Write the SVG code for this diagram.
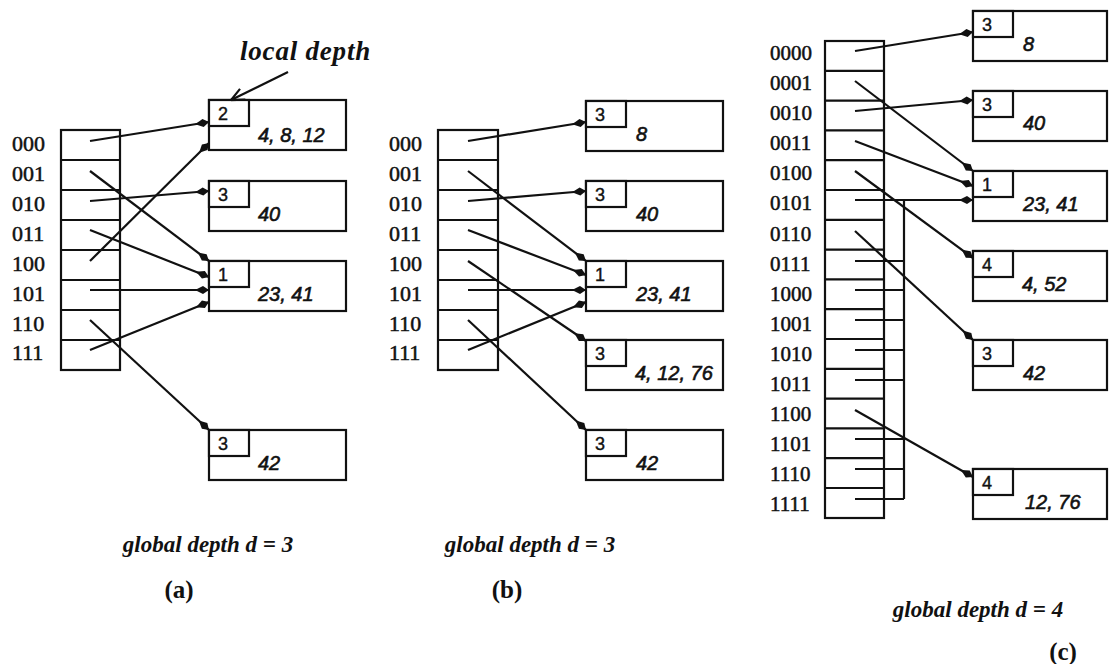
<svg xmlns="http://www.w3.org/2000/svg" width="1109" height="664" viewBox="0 0 1109 664">
  <style>
    .box { fill: #fff; stroke: #111; stroke-width: 2.2; }
    .row { stroke: #111; stroke-width: 2.2; }
    .ptr { fill: none; stroke: #111; stroke-width: 2.2; marker-end: url(#dart); }
    .bus { fill: none; stroke: #111; stroke-width: 2.2; }
    .lbl { font-family: "Liberation Serif", "Times New Roman", serif; font-size: 22px; fill: #111; stroke: #111; stroke-width: 0.5; }
    .lbl4 { font-family: "Liberation Serif", "Times New Roman", serif; font-size: 21px; fill: #111; stroke: #111; stroke-width: 0.5; }
    .dep { font-family: "Liberation Sans", Arial, sans-serif; font-size: 18px; fill: #111; stroke: #111; stroke-width: 0.4; }
    .val { font-family: "Liberation Sans", Arial, sans-serif; font-size: 20px; font-style: italic; fill: #111; stroke: #111; stroke-width: 0.6; }
    .cap { font-family: "Liberation Serif", "Times New Roman", serif; font-size: 23px; font-style: italic; font-weight: bold; fill: #111; }
    .note { font-size: 27px; letter-spacing: 0.8px; }
    .tag { font-family: "Liberation Serif", "Times New Roman", serif; font-size: 25px; font-weight: bold; fill: #111; text-anchor: middle; }
  </style>
  <defs>
    <marker id="dart" viewBox="-15 -5 16 10" refX="0" refY="0" markerWidth="16" markerHeight="10" markerUnits="userSpaceOnUse" orient="auto">
      <path d="M0,0 L-6,-4 L-14,0 L-6,4 Z" fill="#111"/>
    </marker>
    <marker id="open" viewBox="-14 -8 15 16" refX="0" refY="0" markerWidth="15" markerHeight="16" markerUnits="userSpaceOnUse" orient="auto">
      <path d="M-13,-6 L0,0 L-13,6" fill="none" stroke="#111" stroke-width="2.2"/>
    </marker>
    <!-- bucket: outer frame plus the local-depth cell -->
    <g id="bucket">
      <rect class="box" x="0" y="0" width="137" height="50"/>
      <rect class="box" x="0" y="0" width="40" height="26"/>
    </g>
    <g id="bucketC">
      <rect class="box" x="0" y="0" width="134" height="50"/>
      <rect class="box" x="0" y="0" width="40" height="26"/>
    </g>
  </defs>

  <!-- ===== (a) global depth 3 ===== -->
  <g id="dirA">
    <rect class="box" x="61" y="130" width="59" height="240"/>
    <path class="row" d="M61,160H120M61,190H120M61,220H120M61,250H120M61,280H120M61,310H120M61,340H120"/>
    <g class="lbl">
      <text x="12" y="151">000</text>
      <text x="12" y="181">001</text>
      <text x="12" y="211">010</text>
      <text x="12" y="241">011</text>
      <text x="12" y="271">100</text>
      <text x="12" y="301">101</text>
      <text x="12" y="331">110</text>
      <text x="12" y="360">111</text>
    </g>
  </g>
  <g id="a_b1"><use href="#bucket" x="209" y="100"/><text class="dep" x="218" y="120">2</text><text class="val" x="258" y="142">4, 8, 12</text></g>
  <g id="a_b2"><use href="#bucket" x="209" y="181"/><text class="dep" x="218" y="201">3</text><text class="val" x="258" y="221">40</text></g>
  <g id="a_b3"><use href="#bucket" x="209" y="261"/><text class="dep" x="218" y="281">1</text><text class="val" x="258" y="301">23, 41</text></g>
  <g id="a_b4"><use href="#bucket" x="209" y="430"/><text class="dep" x="218" y="450">3</text><text class="val" x="258" y="470">42</text></g>
  <g id="a_note">
    <text class="cap note" x="240" y="60">local depth</text>
  </g>

  <!-- ===== (b) global depth 3 after split ===== -->
  <g id="dirB">
    <rect class="box" x="438" y="130" width="60" height="240"/>
    <path class="row" d="M438,160H498M438,190H498M438,220H498M438,250H498M438,280H498M438,310H498M438,340H498"/>
    <g class="lbl">
      <text x="389" y="151">000</text>
      <text x="389" y="181">001</text>
      <text x="389" y="211">010</text>
      <text x="389" y="241">011</text>
      <text x="389" y="271">100</text>
      <text x="389" y="301">101</text>
      <text x="389" y="331">110</text>
      <text x="389" y="360">111</text>
    </g>
  </g>
  <g id="b_b1"><use href="#bucket" x="586" y="101"/><text class="dep" x="595" y="121">3</text><text class="val" x="636" y="141">8</text></g>
  <g id="b_b2"><use href="#bucket" x="586" y="181"/><text class="dep" x="595" y="201">3</text><text class="val" x="636" y="221">40</text></g>
  <g id="b_b3"><use href="#bucket" x="586" y="261"/><text class="dep" x="595" y="281">1</text><text class="val" x="636" y="301">23, 41</text></g>
  <g id="b_b4"><use href="#bucket" x="586" y="340"/><text class="dep" x="595" y="360">3</text><text class="val" x="635" y="380">4, 12, 76</text></g>
  <g id="b_b5"><use href="#bucket" x="586" y="430"/><text class="dep" x="595" y="450">3</text><text class="val" x="636" y="470">42</text></g>

  <!-- ===== (c) global depth 4 ===== -->
  <g id="dirC">
    <rect class="box" x="825" y="41" width="59" height="477"/>
    <path class="row" d="M825,70.8H884M825,100.6H884M825,130.4H884M825,160.2H884M825,190H884M825,219.8H884M825,249.6H884M825,279.4H884M825,309.2H884M825,339H884M825,368.8H884M825,398.6H884M825,428.4H884M825,458.2H884M825,488H884"/>
    <g class="lbl4">
      <text x="770" y="60">0000</text>
      <text x="770" y="90">0001</text>
      <text x="770" y="120">0010</text>
      <text x="770" y="150">0011</text>
      <text x="770" y="180">0100</text>
      <text x="770" y="210">0101</text>
      <text x="770" y="241">0110</text>
      <text x="770" y="271">0111</text>
      <text x="770" y="301">1000</text>
      <text x="770" y="331">1001</text>
      <text x="770" y="361">1010</text>
      <text x="770" y="391">1011</text>
      <text x="770" y="421">1100</text>
      <text x="770" y="451">1101</text>
      <text x="770" y="481">1110</text>
      <text x="770" y="511">1111</text>
    </g>
  </g>
  <g id="c_b1"><use href="#bucketC" x="973" y="11"/><text class="dep" x="982" y="31">3</text><text class="val" x="1023" y="51">8</text></g>
  <g id="c_b2"><use href="#bucketC" x="973" y="91"/><text class="dep" x="982" y="111">3</text><text class="val" x="1023" y="130">40</text></g>
  <g id="c_b3"><use href="#bucketC" x="973" y="171"/><text class="dep" x="982" y="191">1</text><text class="val" x="1023" y="211">23, 41</text></g>
  <g id="c_b4"><use href="#bucketC" x="973" y="251"/><text class="dep" x="982" y="271">4</text><text class="val" x="1022" y="291">4, 52</text></g>
  <g id="c_b5"><use href="#bucketC" x="973" y="340"/><text class="dep" x="982" y="360">3</text><text class="val" x="1023" y="380">42</text></g>
  <g id="c_b6"><use href="#bucketC" x="973" y="469"/><text class="dep" x="982" y="489">4</text><text class="val" x="1025" y="509">12, 76</text></g>

  <!-- directory pointers -->
  <g id="connectors">
    <path d="M288,72 L231,100" fill="none" stroke="#111" stroke-width="2.2" marker-end="url(#open)"/>
    <!-- (a) -->
    <path class="ptr" d="M90,141 L209,122"/>
    <path class="ptr" d="M90,171 L209,261"/>
    <path class="ptr" d="M90,201 L209,191"/>
    <path class="ptr" d="M90,230 L209,277"/>
    <path class="ptr" d="M90,261 L209,143"/>
    <path class="ptr" d="M90,290 L209,290"/>
    <path class="ptr" d="M90,320 L209,430"/>
    <path class="ptr" d="M90,350 L209,302"/>
    <!-- (b) -->
    <path class="ptr" d="M468,141 L586,122"/>
    <path class="ptr" d="M468,171 L586,261"/>
    <path class="ptr" d="M468,201 L586,191"/>
    <path class="ptr" d="M468,230 L586,275"/>
    <path class="ptr" d="M468,261 L586,341"/>
    <path class="ptr" d="M468,290 L586,290"/>
    <path class="ptr" d="M468,320 L586,430"/>
    <path class="ptr" d="M468,350 L586,302"/>
    <!-- (c) -->
    <path class="ptr" d="M855,51 L973,32"/>
    <path class="ptr" d="M855,81 L973,171"/>
    <path class="ptr" d="M855,111 L973,100"/>
    <path class="ptr" d="M855,141 L973,186"/>
    <path class="ptr" d="M855,171 L973,258"/>
    <path class="ptr" d="M855,200 L973,200"/>
    <path class="ptr" d="M855,231 L973,340"/>
    <path class="ptr" d="M855,410 L973,477"/>
    <!-- shared trunk for the entries that all reach bucket 1 -->
    <path class="bus" d="M904,200 V499 M855,261H904 M855,290H904 M855,320H904 M855,350H904 M855,380H904 M855,439H904 M855,469H904 M855,499H904"/>
  </g>

  <!-- captions -->
  <g id="captions">
    <text class="cap" x="208" y="552" text-anchor="middle">global depth d = 3</text>
    <text class="tag" x="179" y="598">(a)</text>
    <text class="cap" x="530" y="552" text-anchor="middle">global depth d = 3</text>
    <text class="tag" x="507" y="598">(b)</text>
    <text class="cap" x="978" y="617" text-anchor="middle">global depth d = 4</text>
    <text class="tag" x="1063" y="660">(c)</text>
  </g>
</svg>
